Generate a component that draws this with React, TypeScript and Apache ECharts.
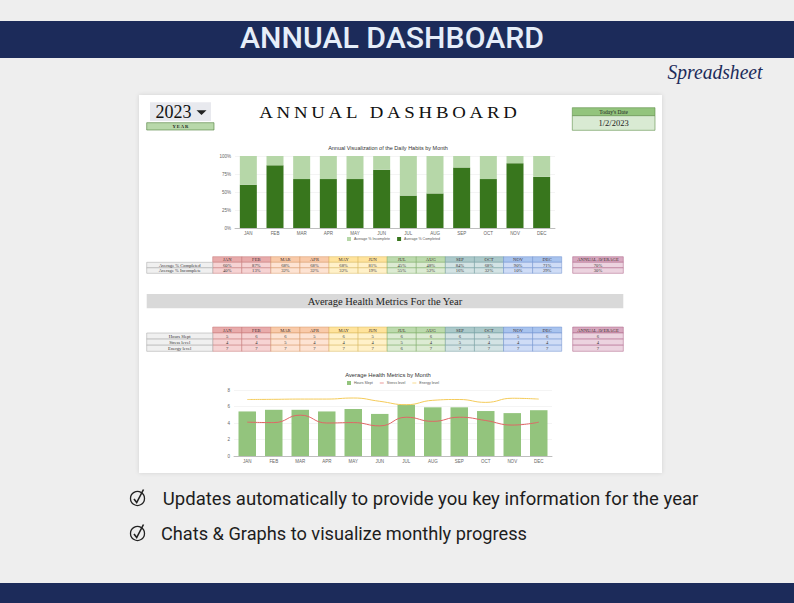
import React, { useEffect, useRef } from 'react';
import * as echarts from 'echarts';

const months = ['JAN', 'FEB', 'MAR', 'APR', 'MAY', 'JUN', 'JUL', 'AUG', 'SEP', 'OCT', 'NOV', 'DEC'];
const completedPct = [60, 87, 68, 68, 68, 81, 45, 48, 84, 68, 90, 71];
const incompletePct = [40, 13, 32, 32, 32, 19, 55, 52, 16, 32, 10, 29];
const annualPct = [70, 30];
const pctTicks = [0, 25, 50, 75, 100];

const hoursSlept = [5.4, 5.6, 5.6, 5.4, 5.7, 5.1, 6.2, 5.9, 5.9, 5.45, 5.2, 5.55];
const stressLevel = [4.1, 4.05, 4.95, 4.0, 4.05, 3.65, 4.7, 4.2, 4.7, 4.3, 3.75, 4.1];
const energyLevel = [6.85, 6.87, 6.9, 6.9, 7.03, 6.63, 6.22, 6.75, 6.85, 6.5, 7.0, 6.9];
const hoursTable = [5, 6, 6, 5, 6, 5, 6, 6, 6, 5, 5, 6];
const stressTable = [4, 4, 5, 4, 4, 4, 5, 4, 5, 4, 4, 4];
const energyTable = [7, 7, 7, 7, 7, 7, 6, 7, 7, 7, 7, 7];
const annualHealth = [6, 4, 7];

const habitRows = ['Average % Completed', 'Average % Incomplete'];
const healthRows = ['Hours Slept', 'Stress level', 'Energy level'];
const bullets = [
  'Updates automatically to provide you key information for the year',
  'Chats & Graphs to visualize monthly progress',
];

const groupHeader = ['#e8abab', '#f9caa9', '#ffe39c', '#bcdaad', '#abc9ca', '#a8c3ee'];
const groupCell = ['#f6d3d3', '#fde3d3', '#fff1c9', '#dcebd3', '#d3e3e4', '#cfdcf6'];
const groupBorder = ['#c47474', '#d79666', '#d6b65a', '#79a862', '#6f999c', '#6d8fcf'];
const NAVY = '#1c2b5a';
const SERIF = '"Liberation Serif", "DejaVu Serif", serif';
const SANS = '"Liberation Sans", Arial, sans-serif';

function fit(text: string, font: string, target: number): number {
  const c = document.createElement('canvas').getContext('2d');
  if (!c) return 1;
  c.font = font;
  const w = c.measureText(text).width;
  return w > 0 ? target / w : 1;
}

function txt(text: string, x: number, y: number, size: number, family: string, fill: string, align = 'center', extra: any = {}) {
  return {
    type: 'text',
    x,
    y,
    z: 10,
    ...extra,
    style: {
      text,
      fontSize: size,
      fontFamily: family,
      fontStyle: extra.fontStyle || 'normal',
      fontWeight: extra.fontWeight || 'normal',
      fill,
      textAlign: align,
      textVerticalAlign: 'middle',
      verticalAlign: 'middle',
    },
  };
}

function rect(x: number, y: number, w: number, h: number, fill: string, stroke?: string, lw = 0.5, z = 5) {
  return {
    type: 'rect',
    z,
    shape: { x, y, width: w, height: h },
    style: { fill, stroke: stroke || 'none', lineWidth: lw },
  };
}

function table(top: number, headerH: number, rowH: number, labels: string[], rows: string[][], avg: string[]) {
  const els: any[] = [];
  const lx0 = 146.7, lx1 = 212.7, mw = (561.7 - 212.7) / 12, ax0 = 572.7, ax1 = 623.3;
  const fs = 4.6;
  months.forEach((m, i) => {
    const g = Math.floor(i / 2);
    const x = lx1 + i * mw;
    els.push(rect(x, top, mw, headerH, groupHeader[g], groupBorder[g]));
    els.push(txt(m, x + mw / 2, top + headerH / 2, fs, SERIF, '#3a2a2a'));
    rows.forEach((r, ri) => {
      const y = top + headerH + ri * rowH;
      els.push(rect(x, y, mw, rowH, groupCell[g], groupBorder[g]));
      els.push(txt(r[i], x + mw / 2, y + rowH / 2, fs, SERIF, '#333'));
    });
  });
  els.push(rect(ax0, top, ax1 - ax0, headerH, '#d8a9c0', '#a85c80'));
  els.push(txt('ANNUAL AVERAGE', (ax0 + ax1) / 2, top + headerH / 2, fs, SERIF, '#3a2a2a'));
  labels.forEach((l, ri) => {
    const y = top + headerH + ri * rowH;
    els.push(rect(lx0, y, lx1 - lx0, rowH, '#f0f0f0', '#a0a0a0'));
    els.push(txt(l, (lx0 + lx1) / 2, y + rowH / 2, fs, SERIF, '#333'));
    els.push(rect(ax0, y, ax1 - ax0, rowH, '#ecd3df', '#a85c80'));
    els.push(txt(avg[ri], (ax0 + ax1) / 2, y + rowH / 2, fs, SERIF, '#333'));
  });
  return els;
}

function checkIcon(cx: number, cy: number) {
  return [
    { type: 'circle', z: 10, shape: { cx, cy, r: 7 }, style: { fill: 'none', stroke: '#222', lineWidth: 1.3 } },
    {
      type: 'polyline',
      z: 11,
      shape: { points: [[cx - 3.5, cy + 0.5], [cx - 0.8, cy + 4], [cx + 6, cy - 9]] },
      style: { fill: 'none', stroke: '#222', lineWidth: 1.6 },
    },
  ];
}

export default function App() {
  const ref = useRef<HTMLDivElement>(null);
  useEffect(() => {
    if (!ref.current) return;
    const chart = echarts.init(ref.current, undefined, { renderer: 'svg' });

    const bannerFont = '500 29px Roboto';
    const bannerScale = fit('ANNUAL DASHBOARD', bannerFont, 304);
    const spaced = 'ANNUAL DASHBOARD'.split('').join('\u2009');
    const spacedFont = `17.5px ${SERIF}`;
    const spacedScale = fit(spaced, spacedFont, 258);
    const spreadFont = `italic 20px ${SERIF}`;
    const spreadScale = fit('Spreadsheet', spreadFont, 95);
    const bulletFont = '18.5px Roboto';
    const b1 = fit(bullets[0], bulletFont, 536);
    const b2 = fit(bullets[1], bulletFont, 366);

    const graphics: any[] = [
      rect(0, 21, 794, 37, NAVY, undefined, 0, 1),
      rect(0, 583, 794, 20, NAVY, undefined, 0, 1),
      txt('ANNUAL DASHBOARD', 392, 38.5, 29, 'Roboto', '#e6eef9', 'center', { scaleX: bannerScale, fontWeight: 500 }),
      txt('Spreadsheet', 715, 72, 20, SERIF, NAVY, 'center', { scaleX: spreadScale, fontStyle: 'italic' }),
      {
        type: 'rect',
        z: -5,
        shape: { x: 139, y: 95, width: 523, height: 378 },
        style: { fill: '#ffffff', shadowBlur: 4, shadowColor: 'rgba(0,0,0,0.12)' },
      },
      rect(150, 102.3, 61, 18.7, '#e8e9ee', undefined, 0, 5),
      txt('2023', 155.5, 112, 18, SERIF, '#111', 'left'),
      { type: 'polygon', z: 10, shape: { points: [[196.5, 110.3], [206.5, 110.3], [201.5, 115]] }, style: { fill: '#222' } },
      rect(146.7, 122.7, 67.3, 7.3, '#b8d8aa', '#4f7f3a', 0.6, 5),
      txt('Y E A R', 180.3, 126.4, 4.6, SERIF, '#222', 'center', { fontWeight: 'bold' }),
      txt(spaced, 388, 112.3, 17.5, SERIF, '#111', 'center', { scaleX: spacedScale }),
      rect(572.3, 107.7, 82.7, 8, '#93c47d', '#5e8f48', 0.6, 5),
      txt("Today's Date", 613.6, 111.7, 5.5, SERIF, '#222'),
      rect(572.3, 115.7, 82.7, 14.6, '#d9ead3', '#5e8f48', 0.6, 5),
      txt('1/2/2023', 613.6, 123.2, 8.5, SERIF, '#222'),
      rect(146.7, 294, 476.6, 14.3, '#d9d9d9', undefined, 0, 5),
      txt('Average Health Metrics For the Year', 385, 301.5, 10.5, SERIF, '#222'),
      ...checkIcon(137.5, 498.5),
      txt(bullets[0], 162.8, 499, 18.5, 'Roboto', '#1d1d1d', 'left', { scaleX: b1 }),
      ...checkIcon(137.5, 533.5),
      txt(bullets[1], 161, 533.5, 18.5, 'Roboto', '#1d1d1d', 'left', { scaleX: b2 }),
      ...table(256.7, 5.6, 5.5, habitRows, [completedPct.map((v) => v + '%'), incompletePct.map((v) => v + '%')], annualPct.map((v) => v + '%')),
      ...table(327, 6, 6.1, healthRows, [hoursTable.map(String), stressTable.map(String), energyTable.map(String)], annualHealth.map(String)),
    ];

    const axisLabel = { fontSize: 4.5, color: '#666', fontFamily: SANS };
    const legendText = { fontSize: 3.6, color: '#555', fontFamily: SANS, padding: [0, 0, 0, -2] };

    chart.setOption({
      animation: false,
      backgroundColor: '#eeeeee',
      title: [
        {
          text: 'Annual Visualization of the Daily Habits by Month',
          left: 388,
          top: 145,
          padding: 0,
          textAlign: 'center',
          textStyle: { fontSize: 5.5, fontWeight: 'normal', color: '#333', fontFamily: SANS },
        },
        {
          text: 'Average Health Metrics by Month',
          left: 388,
          top: 371.5,
          padding: 0,
          textAlign: 'center',
          textStyle: { fontSize: 5.8, fontWeight: 'normal', color: '#333', fontFamily: SANS },
        },
      ],
      legend: [
        {
          data: ['Average % Incomplete', 'Average % Completed'],
          left: 347,
          top: 237,
          padding: 0,
          itemWidth: 4,
          itemHeight: 4,
          itemGap: 7,
          icon: 'rect',
          textStyle: legendText,
        },
        {
          data: [
            { name: 'Hours Slept', icon: 'rect' },
            { name: 'Stress level', icon: 'path://M0,4 H12 V6 H0 Z' },
            { name: 'Energy level', icon: 'path://M0,4 H12 V6 H0 Z' },
          ],
          left: 347,
          top: 381,
          padding: 0,
          itemWidth: 4,
          itemHeight: 4,
          itemGap: 7,
          textStyle: legendText,
        },
      ],
      grid: [
        { left: 235, top: 156, width: 320, height: 72, containLabel: false },
        { left: 234, top: 390, width: 318, height: 66, containLabel: false },
      ],
      xAxis: [
        {
          type: 'category',
          gridIndex: 0,
          data: months,
          axisTick: { show: false },
          axisLine: { lineStyle: { color: '#999', width: 0.6 } },
          axisLabel: { ...axisLabel, margin: 3 },
        },
        {
          type: 'category',
          gridIndex: 1,
          data: months,
          axisTick: { show: false },
          axisLine: { lineStyle: { color: '#999', width: 0.6 } },
          axisLabel: { ...axisLabel, margin: 3 },
        },
      ],
      yAxis: [
        {
          type: 'value',
          gridIndex: 0,
          min: pctTicks[0],
          max: pctTicks[pctTicks.length - 1],
          interval: 25,
          axisLabel: { ...axisLabel, formatter: '{value}%', margin: 4 },
          splitLine: { lineStyle: { color: '#e8e8e8', width: 0.5 } },
          axisLine: { show: false },
        },
        {
          type: 'value',
          gridIndex: 1,
          min: 0,
          max: 8,
          interval: 2,
          axisLabel: { ...axisLabel, margin: 4 },
          splitLine: { lineStyle: { color: '#e8e8e8', width: 0.5 } },
          axisLine: { show: false },
        },
      ],
      series: [
        {
          name: 'Average % Completed',
          type: 'bar',
          stack: 'habits',
          xAxisIndex: 0,
          yAxisIndex: 0,
          barWidth: 17,
          data: completedPct,
          itemStyle: { color: '#38761d' },
        },
        {
          name: 'Average % Incomplete',
          type: 'bar',
          stack: 'habits',
          xAxisIndex: 0,
          yAxisIndex: 0,
          barWidth: 17,
          data: incompletePct,
          itemStyle: { color: '#b6d7a8' },
        },
        {
          name: 'Hours Slept',
          type: 'bar',
          xAxisIndex: 1,
          yAxisIndex: 1,
          barWidth: 17.5,
          data: hoursSlept,
          itemStyle: { color: '#93c47d' },
        },
        {
          name: 'Stress level',
          type: 'line',
          xAxisIndex: 1,
          yAxisIndex: 1,
          smooth: true,
          showSymbol: false,
          data: stressLevel,
          itemStyle: { color: '#e06666' },
          lineStyle: { color: '#e06666', width: 1 },
        },
        {
          name: 'Energy level',
          type: 'line',
          xAxisIndex: 1,
          yAxisIndex: 1,
          smooth: true,
          showSymbol: false,
          data: energyLevel,
          itemStyle: { color: '#f4cb5a' },
          lineStyle: { color: '#f4cb5a', width: 1 },
        },
      ],
      graphic: { elements: graphics },
    });
    return () => chart.dispose();
  }, []);
  return <div ref={ref} style={{ position: 'fixed', left: 0, top: 0, width: 794, height: 603 }} />;
}
